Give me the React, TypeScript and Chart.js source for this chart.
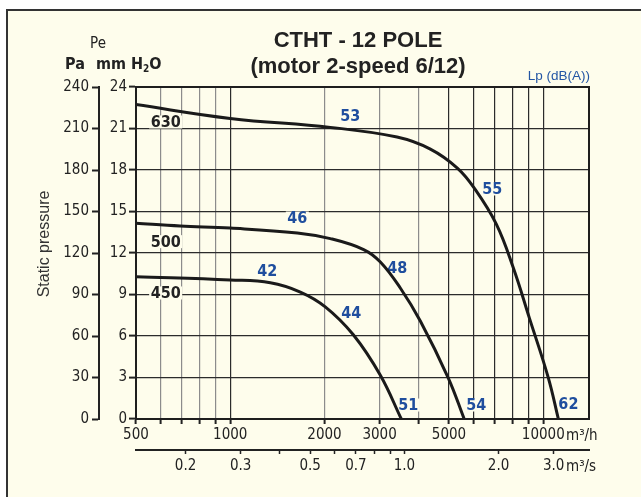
import React, { useEffect, useRef } from "react";
import { Chart, registerables } from "chart.js";

Chart.register(...registerables);

// ---- axis ticks ----
const flowTicks = [500, 600, 700, 800, 900, 1000, 2000, 3000, 4000, 5000, 6000, 7000, 8000, 9000, 10000];
const flowLabels = [500, 1000, 2000, 3000, 5000, 10000];
const flowDarkLines = [1000, 5000, 6000, 7000, 8000, 9000, 10000];
const secTicks = [0.2, 0.3, 0.4, 0.5, 0.6, 0.7, 0.8, 0.9, 1, 2, 3];
const secLabels = [0.2, 0.3, 0.5, 0.7, 1, 2, 3];
const flowMin = 500;
const flowMax = 14000;
const paMax = 240;
const mmMax = 24;

// ---- curves (flow m3/h, static pressure Pa) ----
const flow630 = [500, 1000, 2088, 3411, 4358, 5315, 6021, 7080, 8027, 9026, 10385, 11175];
const pa630 = [227.3, 217.3, 210.8, 203.8, 195.1, 181.4, 166.9, 140.9, 109.1, 73.1, 29.6, 0];
const flow500 = [500, 692, 1000, 1638, 2088, 2668, 3017, 3494, 4048, 4974, 5590];
const pa500 = [141.5, 139.5, 138, 134.5, 130.4, 122.5, 113.5, 94.7, 70.8, 29.6, 0];
const flow450 = [500, 1000, 1343, 1675, 2012, 2473, 3017, 3520];
const pa450 = [102.9, 100.5, 98.5, 91.8, 81.1, 60.9, 31.6, 0];

// ---- curve names ----
const curveNames = ["630", "500", "450"];
const curveNameFlow = [622, 622, 622];
const curveNamePa = [214.7, 128.2, 91.1];

// ---- sound levels Lp dB(A) ----
const lpLabels = ["53", "55", "62", "46", "48", "54", "42", "44", "51"];
const lpFlow = [2419, 6874, 12030, 1638, 3419, 6114, 1313, 2437, 3706];
const lpPa = [219, 166.3, 10.8, 145.3, 109.2, 10.1, 107, 76.6, 10.1];

const BG = "#fefdec";
const INK = "#222222";
const BLUE = "#1f4e9e";
const NARROW = "'Liberation Sans Narrow', 'Arial Narrow', 'DejaVu Sans Condensed', sans-serif";
const SANS = "'Liberation Sans', Arial, sans-serif";

const toPts = (xs: number[], ys: number[]) => xs.map((x, i) => ({ x, y: ys[i] }));

const decor = {
  id: "decor",
  beforeDatasetsDraw(chart: any) {
    const { ctx, scales } = chart;
    const sx = scales.x;
    const sy = scales.y;
    ctx.save();
    ctx.textAlign = "center";
    ctx.textBaseline = "middle";
    ctx.font = `bold 16px ${NARROW}`;
    const boxed = (t: string, px: number, py: number, color: string) => {
      const w = ctx.measureText(t).width;
      ctx.fillStyle = BG;
      ctx.fillRect(px - w / 2 - 1.5, py - 6.5, w + 3, 13);
      ctx.fillStyle = color;
      ctx.fillText(t, px, py + 1);
    };
    curveNames.forEach((t, i) =>
      boxed(t, sx.getPixelForValue(curveNameFlow[i]), sy.getPixelForValue(curveNamePa[i]), INK)
    );
    lpLabels.forEach((t, i) =>
      boxed(t, sx.getPixelForValue(lpFlow[i]), sy.getPixelForValue(lpPa[i]), BLUE)
    );
    ctx.restore();
  },
  afterDraw(chart: any) {
    const { ctx, chartArea: ca } = chart;
    ctx.save();
    // frame
    ctx.strokeStyle = "#1e1e1e";
    ctx.lineWidth = 2;
    ctx.strokeRect(ca.left, ca.top, ca.right - ca.left, ca.bottom - ca.top);

    // title
    ctx.fillStyle = INK;
    ctx.textAlign = "center";
    ctx.textBaseline = "middle";
    ctx.font = `bold 22px ${SANS}`;
    ctx.fillText("CTHT - 12 POLE", 358, 41);
    ctx.fillText("(motor 2-speed 6/12)", 358, 67);

    // Lp header
    ctx.font = `13.5px ${SANS}`;
    ctx.fillStyle = "#2456a4";
    ctx.textAlign = "right";
    ctx.fillText("Lp (dB(A))", 590, 76);

    // left headers
    ctx.fillStyle = INK;
    ctx.textAlign = "center";
    ctx.font = `15px ${NARROW}`;
    ctx.fillText("Pe", 98, 44);
    ctx.font = `bold 16px ${NARROW}`;
    ctx.fillText("Pa", 75, 65);
    ctx.textAlign = "left";
    let xx = 96;
    ctx.fillText("mm H", xx, 65);
    xx += ctx.measureText("mm H").width;
    ctx.font = `bold 10px ${NARROW}`;
    ctx.fillText("2", xx, 69);
    xx += ctx.measureText("2").width;
    ctx.font = `bold 16px ${NARROW}`;
    ctx.fillText("O", xx, 65);

    // axis title
    ctx.save();
    ctx.translate(45, 244);
    ctx.rotate(-Math.PI / 2);
    ctx.textAlign = "center";
    ctx.font = `16px ${SANS}`;
    ctx.fillStyle = "#333";
    ctx.fillText("Static pressure", 0, 0);
    ctx.restore();

    // units
    ctx.fillStyle = INK;
    ctx.textAlign = "left";
    ctx.font = `15px ${NARROW}`;
    ctx.fillText("m³/h", 566, 436);
    ctx.fillText("m³/s", 566, 467);
    ctx.restore();
  },
};

export default function App() {
  const ref = useRef<HTMLCanvasElement | null>(null);

  useEffect(() => {
    if (!ref.current) return;
    const lineDs = (label: string, xs: number[], ys: number[]) => ({
      label,
      data: toPts(xs, ys),
      borderColor: "#1a1a1a",
      borderWidth: 3,
      pointRadius: 0,
      fill: false,
      tension: 0.4,
      xAxisID: "x",
      yAxisID: "y",
    });
    const tickFont = { family: NARROW, size: 15 };
    const chart = new Chart(ref.current, {
      type: "line",
      data: {
        datasets: [
          lineDs("630", flow630, pa630),
          lineDs("500", flow500, pa500),
          lineDs("450", flow450, pa450),
        ],
      },
      plugins: [decor],
      options: {
        responsive: false,
        animation: false,
        events: [],
        layout: { padding: { top: 87, right: 52, left: 0, bottom: 0 } },
        plugins: { legend: { display: false }, tooltip: { enabled: false }, title: { display: false } },
        scales: {
          x: {
            type: "logarithmic",
            position: "bottom",
            weight: 1,
            min: flowMin,
            max: flowMax,
            afterBuildTicks: (s: any) => {
              s.ticks = flowTicks.map((v) => ({ value: v }));
            },
            afterFit: (s: any) => {
              s.height = 31;
            },
            ticks: {
              autoSkip: false,
              maxRotation: 0,
              padding: 2,
              color: INK,
              font: tickFont,
              callback: (v: any) => (flowLabels.includes(Number(v)) ? String(v) : ""),
            },
            grid: {
              color: (c: any) => (flowDarkLines.includes(c.tick?.value) ? "#2b2b2b" : "#8c8c8c"),
              lineWidth: 1.2,
              tickColor: INK,
              tickWidth: 2,
              tickLength: 5,
            },
            border: { display: true, color: INK, width: 2 },
          },
          x2: {
            type: "logarithmic",
            axis: "x",
            position: "bottom",
            weight: 2,
            min: flowMin / 3600,
            max: flowMax / 3600,
            afterBuildTicks: (s: any) => {
              s.ticks = secTicks.map((v) => ({ value: v }));
            },
            afterFit: (s: any) => {
              s.height = 47;
            },
            ticks: {
              autoSkip: false,
              maxRotation: 0,
              padding: 3,
              color: INK,
              font: tickFont,
              callback: (v: any) => (secLabels.includes(Number(v)) ? Number(v).toFixed(1) : ""),
            },
            grid: {
              drawOnChartArea: false,
              color: INK,
              tickColor: INK,
              tickWidth: 1.5,
              tickLength: 4,
            },
            border: { display: true, color: INK, width: 2 },
          },
          y: {
            type: "linear",
            position: "left",
            weight: 2,
            min: 0,
            max: paMax,
            afterFit: (s: any) => {
              s.width = 99;
            },
            ticks: { stepSize: 30, padding: 3, color: INK, font: tickFont },
            grid: { drawOnChartArea: false, color: INK, tickColor: INK, tickWidth: 2, tickLength: 7 },
            border: { display: true, color: INK, width: 2 },
          },
          mm: {
            type: "linear",
            axis: "y",
            position: "left",
            weight: 1,
            min: 0,
            max: mmMax,
            afterFit: (s: any) => {
              s.width = 37;
            },
            ticks: { stepSize: 3, padding: 2, color: INK, font: tickFont },
            grid: { drawOnChartArea: true, color: "#2b2b2b", lineWidth: 1.2, tickColor: INK, tickWidth: 2, tickLength: 7 },
            border: { display: true, color: INK, width: 2 },
          },
        },
      } as any,
    });
    return () => chart.destroy();
  }, []);

  return (
    <div style={{ position: "absolute", left: 0, top: 0, width: 641, height: 497, background: "#fff", overflow: "hidden" }}>
      <div
        style={{
          position: "absolute",
          left: 6,
          top: 9,
          width: 700,
          height: 600,
          background: BG,
          borderLeft: "2px solid #333",
          borderTop: "2px solid #333",
        }}
      />
      <canvas ref={ref} width={641} height={497} style={{ position: "absolute", left: 0, top: 0, display: "block" }} />
    </div>
  );
}
